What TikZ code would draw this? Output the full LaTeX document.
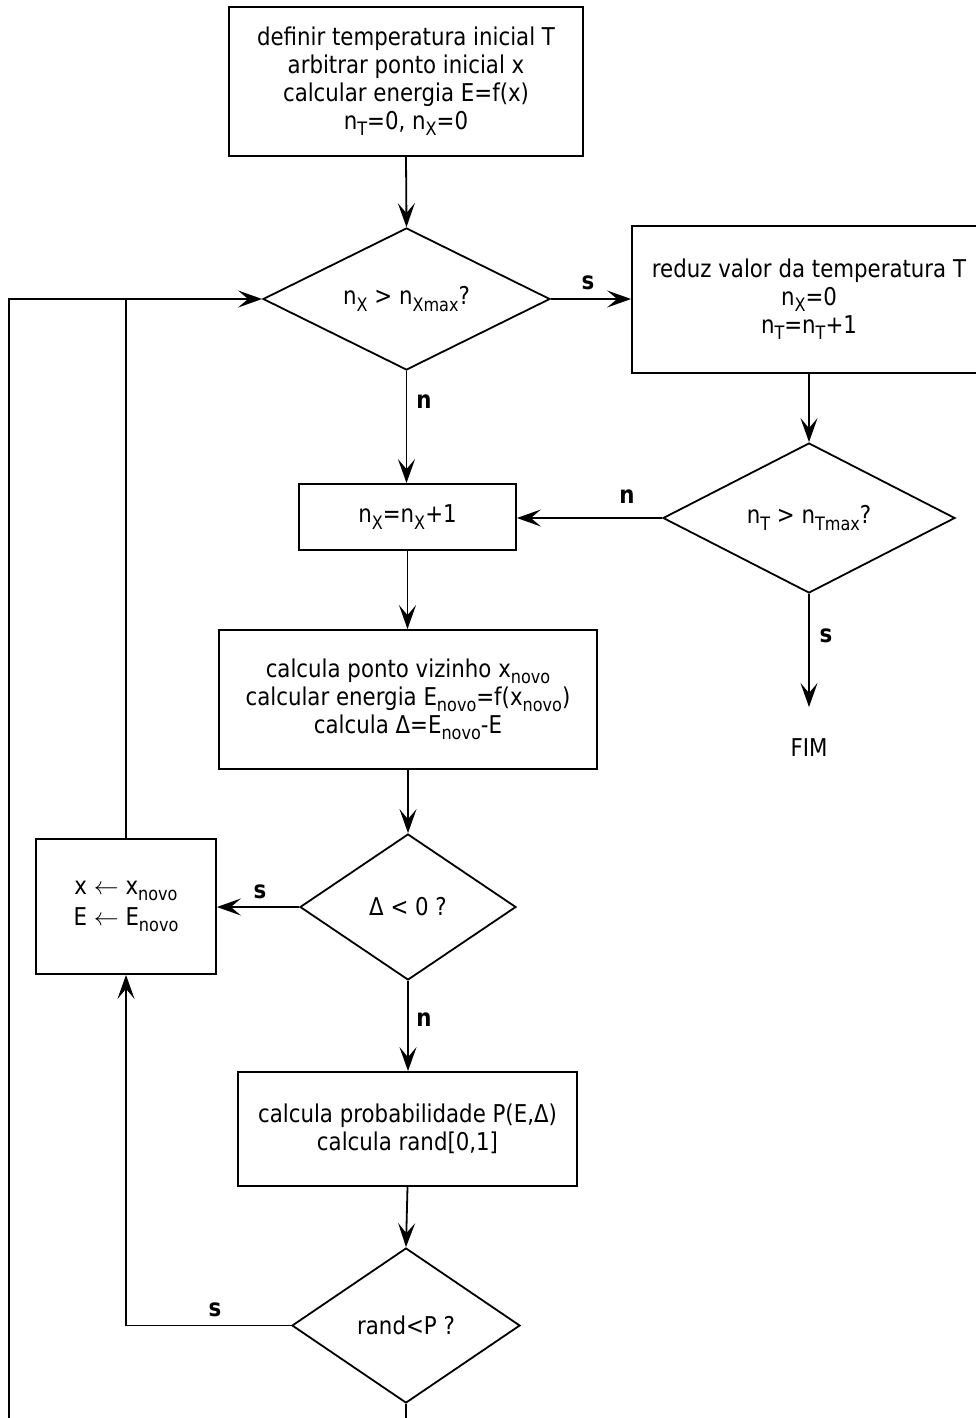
\documentclass[tikz,border=0pt]{standalone}
\usepackage{fontspec}
\setmainfont{DejaVu Sans}[FakeStretch=0.87]
\usetikzlibrary{shapes.geometric,arrows.meta}
\newcommand{\sbs}[1]{\raisebox{-0.26em}{\fontsize{18.5}{18.5}\selectfont #1}}
\newcommand{\getsarrow}{\ $\leftarrow$\ }
\begin{document}
\begin{tikzpicture}[x=1pt,y=-1pt,
  every node/.style={font=\fontsize{24.5}{28}\selectfont},
  box/.style={draw, line width=1.8pt, inner sep=0pt, align=center},
  dec/.style={draw, diamond, line width=1.8pt, inner sep=0pt, align=center, aspect=2},
  flow/.style={line width=1.8pt, -{Stealth[length=24pt,width=17pt,inset=10pt]}},
  plain/.style={line width=1.8pt},
  lab/.style={font=\fontsize{24.5}{28}\selectfont\bfseries}]
\useasboundingbox (0,0) rectangle (976,1418);

\node[box, minimum width=354pt, minimum height=149pt] (init) at (406,81.5)
  {definir temperatura inicial T\\arbitrar ponto inicial x\\calcular energia E=f(x)\\n\sbs{T}=0, n\sbs{X}=0};
\node[dec, minimum width=287pt, minimum height=142pt] (d1) at (406.5,299) {n\sbs{X} > n\sbs{Xmax}?};
\node[box, minimum width=354pt, minimum height=147pt] (red) at (809,299.5)
  {reduz valor da temperatura T\\n\sbs{X}=0\\n\sbs{T}=n\sbs{T}+1};
\node[dec, minimum width=292pt, minimum height=150pt] (d2) at (809,518) {n\sbs{T} > n\sbs{Tmax}?};
\node[box, minimum width=217pt, minimum height=66pt] (inc) at (407.5,517) {n\sbs{X}=n\sbs{X}+1};
\node[box, minimum width=378pt, minimum height=139pt] (viz) at (408,699.5)
  {calcula ponto vizinho x\sbs{novo}\\calcular energia E\sbs{novo}=f(x\sbs{novo})\\calcula Δ=E\sbs{novo}-E};
\node[dec, minimum width=216pt, minimum height=146pt] (d3) at (408,907) {Δ < 0 ?};
\node[box, minimum width=180pt, minimum height=135pt, font=\fontsize{24.5}{31}\selectfont] (acc) at (126,906.5)
  {x\getsarrow x\sbs{novo}\\E\getsarrow E\sbs{novo}};
\node[box, minimum width=339pt, minimum height=114pt] (prob) at (407.5,1129)
  {calcula probabilidade P(E,Δ)\\calcula rand[0,1]};
\node[dec, minimum width=228pt, minimum height=155pt] (d4) at (406,1325.5) {rand<P ?};
\node (fim) at (809,748) {FIM};

\coordinate (fimtip) at (809,707);
\coordinate (bl) at (9,1418);
\coordinate (br) at (406,1418);

\draw[flow] (init.south) -- (d1.north);
\draw[flow] (d1.east) -- (d1.east -| red.west);
\draw[flow] (red.south) -- (d2.north);
\draw[flow] (d2.west) -- (d2.west -| inc.east);
\draw[flow] (d1.south) -- (d1.south |- inc.north);
\draw[flow] (inc.south) -- (inc.south |- viz.north);
\draw[flow] (viz.south) -- (d3.north);
\draw[flow] (d3.west) -- (d3.west -| acc.east);
\draw[flow] (d3.south) -- (d3.south |- prob.north);
\draw[flow] (prob.south) -- (d4.north);
\draw[flow] (d2.south) -- (fimtip);
\draw[flow] (acc.north) |- (d1.west);
\draw[flow] (d4.west) -| (acc.south);
\draw[plain] (d4.south) -- (br);
\draw[plain] (bl) |- (acc.north |- d1.west);

\node[lab] (ls1) at (588,283) {s};
\node[lab] (ln1) at (424,402) {n};
\node[lab] (ln2) at (627,497) {n};
\node[lab] (ls2) at (826,636) {s};
\node[lab] (ls3) at (260,892) {s};
\node[lab] (ln3) at (424,1020) {n};
\node[lab] (ls4) at (215,1310) {s};
\end{tikzpicture}
\end{document}
